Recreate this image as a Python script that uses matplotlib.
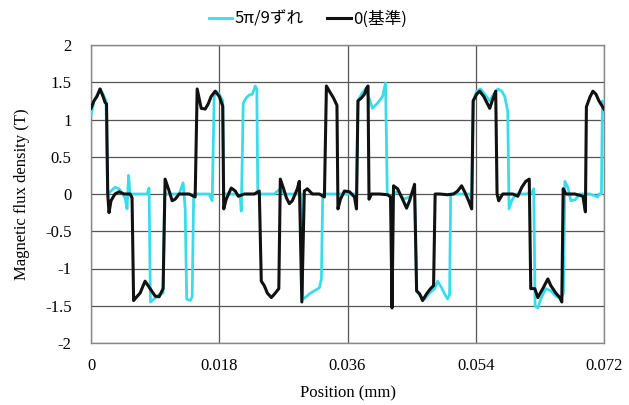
import matplotlib
matplotlib.use("Agg")
import matplotlib.pyplot as plt
import numpy as np

# Data (x in units of 1e-3 mm, converted below)
black_x = [0.0, 0.42, 0.84, 1.27, 1.69, 1.97, 2.18, 2.35, 2.53, 2.81, 3.37, 3.94, 4.64, 5.48, 5.76,
           5.98, 6.33, 6.89, 7.59, 8.30, 9.00, 9.56, 10.12, 10.40, 10.97, 11.39, 11.81, 12.37, 13.78, 14.62,
           14.90, 15.47, 16.03, 16.45, 16.87, 17.43, 18.00, 18.49, 18.63, 18.98, 19.68, 20.25, 20.67, 21.51,
           22.92, 23.62, 23.90, 24.32, 24.75, 25.31, 25.87, 26.36, 26.57, 27.00, 27.42, 27.84, 28.26, 28.96,
           29.24, 29.59, 29.94, 30.36, 31.07, 32.05, 32.76, 33.04, 33.46, 34.03, 34.52, 34.66, 35.01, 35.57,
           36.28, 36.98, 37.26, 37.47, 37.96, 38.38, 38.67, 38.88, 39.02, 39.37, 40.50, 41.62, 42.04, 42.25,
           42.46, 43.03, 43.73, 44.29, 44.71, 45.41, 45.70, 46.12, 46.54, 47.10, 47.66, 48.08, 48.30, 48.93,
           50.05, 50.89, 51.46, 52.02, 52.44, 53.00, 53.43, 53.64, 54.13, 54.55, 55.12, 55.54, 55.96, 56.38,
           56.80, 56.99, 57.22, 57.79, 59.19, 59.90, 60.46, 61.02, 61.51, 61.72, 62.29, 62.71, 63.41, 64.12,
           64.54, 65.24, 65.80, 66.08, 66.27, 66.65, 67.92, 69.04, 69.39, 69.53, 70.02, 70.44, 70.87, 71.29,
           72.00]
black_y = [1.15, 1.25, 1.31, 1.41, 1.31, 1.23, 1.21, 0.0, -0.25, -0.09, 0.0, 0.03, 0.0, 0.0, -0.05,
           -1.43, -1.39, -1.33, -1.17, -1.27, -1.37, -1.38, -1.27, 0.20, 0.04, -0.09, -0.07, 0.0, 0.0, -0.04,
           1.41, 1.15, 1.14, 1.21, 1.31, 1.38, 1.31, 1.18, -0.20, -0.07, 0.08, 0.04, -0.03, 0.0,
           0.0, 0.04, -1.17, -1.23, -1.33, -1.39, -1.33, -1.27, 0.20, 0.08, -0.05, -0.13, -0.09, 0.07,
           0.17, -1.45, 0.04, 0.07, 0.0, 0.0, -0.04, 1.45, 1.38, 1.29, 1.19, -0.20, -0.07, 0.04,
           0.03, -0.04, -0.20, 1.25, 1.29, 1.34, 1.42, 1.45, -0.07, 0.0, 0.0, -0.01, -0.04, -1.53,
           0.11, 0.07, -0.07, -0.19, -0.09, 0.13, -1.30, -1.34, -1.43, -1.34, -1.27, -1.23, 0.0, 0.0,
           -0.01, 0.0, 0.04, 0.11, 0.03, -0.09, -0.20, 1.25, 1.34, 1.38, 1.31, 1.23, 1.15, 1.27,
           1.38, 0.0, -0.09, 0.0, 0.0, -0.03, 0.09, 0.17, 0.20, -1.27, -1.27, -1.39, -1.27, -1.14,
           -1.23, -1.33, -1.39, -1.45, 0.07, 0.0, 0.0, -0.03, -0.24, 1.17, 1.30, 1.38, 1.34, 1.25,
           1.14]

cyan_x = [0.0, 0.42, 0.98, 1.27, 1.69, 2.11, 2.32, 2.81, 3.37, 3.94, 4.78, 5.06, 5.27, 5.48, 6.75,
          7.87, 8.15, 8.34, 8.86, 9.56, 10.12, 10.33, 11.25, 12.37, 12.93, 13.22, 13.43, 13.92, 14.20, 14.41,
          15.18, 16.59, 17.01, 17.29, 17.57, 18.00, 18.49, 18.63, 19.40, 20.53, 20.95, 21.09, 21.37, 21.79,
          22.22, 22.64, 23.06, 23.27, 23.41, 24.32, 25.73, 26.43, 27.14, 28.54, 29.52, 29.73, 30.08, 30.65,
          31.35, 32.05, 32.34, 32.52, 33.46, 34.87, 36.28, 37.26, 37.47, 37.96, 38.53, 39.09, 39.51, 40.22,
          40.92, 41.34, 41.58, 42.18, 43.03, 43.87, 44.71, 45.41, 45.70, 46.26, 46.82, 47.52, 48.23, 48.65,
          49.21, 49.63, 50.05, 50.33, 50.48, 51.74, 53.15, 53.43, 53.64, 54.13, 54.69, 55.26, 55.96, 56.52,
          57.09, 57.65, 58.07, 58.49, 58.67, 59.05, 59.61, 60.88, 61.86, 62.14, 62.33, 62.71, 63.13, 63.83,
          64.54, 65.24, 65.94, 66.30, 66.51, 66.93, 67.35, 67.92, 68.62, 70.02, 71.15, 71.29, 71.64, 71.78,
          72.00]
cyan_y = [1.05, 1.25, 1.35, 1.41, 1.34, 1.25, 0.0, 0.04, 0.09, 0.07, -0.05, -0.20, 0.25, 0.0, 0.0,
          0.0, 0.08, -1.45, -1.41, -1.35, -1.33, 0.0, 0.0, 0.0, 0.15, -0.20, -1.41, -1.43, -1.38, 0.0,
          0.0, 0.0, -0.09, 1.31, 1.38, 1.34, 1.25, 0.0, 0.0, 0.0, -0.05, -0.23, 1.22, 1.29,
          1.33, 1.34, 1.45, 1.41, 0.0, 0.0, 0.0, 0.06, 0.0, 0.0, 0.0, -1.41, -1.39, -1.34,
          -1.30, -1.26, -1.14, 0.0, 0.0, 0.0, 0.0, 0.0, 1.25, 1.34, 1.41, 1.27, 1.15, 1.22,
          1.31, 1.49, 0.0, -0.04, 0.04, -0.07, -0.04, 0.04, -1.30, -1.37, -1.41, -1.33, -1.27, -1.17,
          -1.26, -1.34, -1.41, -1.35, 0.0, 0.0, 0.0, -0.05, 1.25, 1.38, 1.41, 1.34, 1.25, 1.34,
          1.41, 1.38, 1.31, 1.11, -0.20, -0.09, 0.0, 0.0, 0.01, 0.07, -1.50, -1.53, -1.41, -1.27,
          -1.30, -1.37, -1.41, -1.33, 0.17, 0.09, -0.09, -0.08, 0.0, 0.0, -0.04, 0.0, 0.0, 1.25,
          1.10]

series_labels = ["5π/9ずれ", "0(基準)"]
x_ticks = [0, 0.018, 0.036, 0.054, 0.072]
x_ticklabels = ["0", "0.018", "0.036", "0.054", "0.072"]
y_ticks = [-2, -1.5, -1, -0.5, 0, 0.5, 1, 1.5, 2]
y_ticklabels = ["-2", "-1.5", "-1", "-0.5", "0", "0.5", "1", "1.5", "2"]

plt.rcParams['axes.unicode_minus'] = False
serif = ['Liberation Serif', 'DejaVu Serif']
cjk = ['Noto Sans CJK JP', 'DejaVu Sans']

fig = plt.figure(figsize=(6.29, 4.05), dpi=100)
ax = fig.add_axes([91/629, 1-343/405, (604-91)/629, (343-45)/405])

bx = np.array(black_x) / 1000.0
cx = np.array(cyan_x) / 1000.0
ax.plot(cx, cyan_y, color='#3ADCEC', lw=2.0, label=series_labels[0], zorder=3)
ax.plot(bx, black_y, color='#111111', lw=2.2, label=series_labels[1], zorder=4)

ax.set_xlim(0, 0.072)
ax.set_ylim(-2, 2)
ax.set_xticks(x_ticks)
ax.set_xticklabels(x_ticklabels, fontfamily=serif, fontsize=12)
ax.set_yticks(y_ticks)
ax.set_yticklabels(y_ticklabels, fontfamily=serif, fontsize=12)
ax.tick_params(length=0, pad=14, axis='y')
ax.tick_params(length=0, pad=11, axis='x')
ax.grid(True, color='#555555', lw=0.9)
for s in ax.spines.values():
    s.set_color('#888888')
    s.set_linewidth(1.0)

ax.set_xlabel("Position (mm)", fontfamily=serif, fontsize=12, labelpad=8)
ax.set_ylabel("Magnetic flux density (T)", fontfamily=serif, fontsize=12, labelpad=11)

leg = fig.legend(loc='center', bbox_to_anchor=(308/629, 1-19/405), ncol=2, frameon=False,
                 prop={'family': cjk, 'size': 12}, handlelength=1.4, handletextpad=0.15,
                 columnspacing=1.4)

fig.savefig("out.png", dpi=100)
